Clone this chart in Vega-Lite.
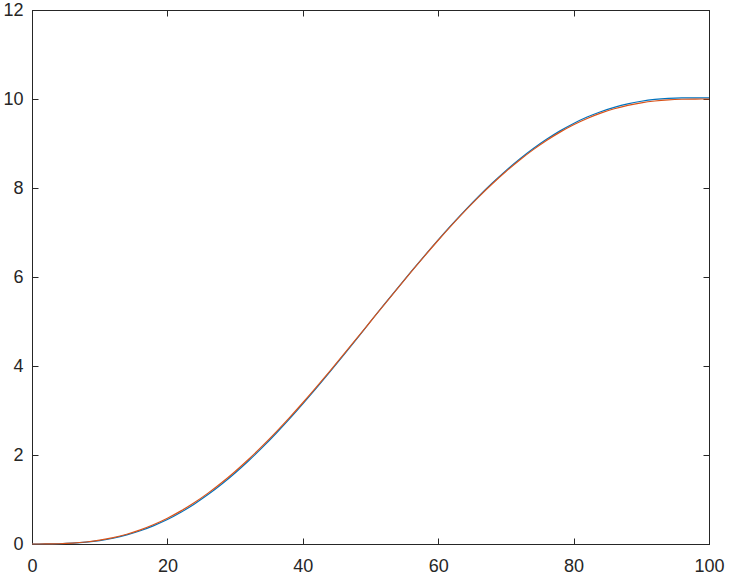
{
  "$schema": "https://vega.github.io/schema/vega-lite/v6.json",
  "width": 677,
  "height": 534,
  "autosize": "none",
  "padding": {"left": 32, "top": 10, "right": 20, "bottom": 33},
  "background": "white",
  "config": {
    "view": {"stroke": "#262626", "strokeWidth": 1},
    "axis": {
      "grid": false,
      "domainColor": "#262626",
      "tickColor": "#262626",
      "labelColor": "#262626",
      "labelFont": "Liberation Sans",
      "labelFontSize": 18,
      "labelFlush": false,
      "labelOverlap": false,
      "tickSize": -6,
      "domainWidth": 1,
      "tickWidth": 1
    }
  },
  "data": {"values": [
    {"x":0,"y":0,"s":"1"},{"x":2,"y":0.0008,"s":"1"},{"x":4,"y":0.006,"s":"1"},{"x":6,"y":0.018,"s":"1"},{"x":8,"y":0.040,"s":"1"},{"x":10,"y":0.076,"s":"1"},{"x":12,"y":0.130,"s":"1"},{"x":14,"y":0.204,"s":"1"},{"x":16,"y":0.298,"s":"1"},{"x":18,"y":0.414,"s":"1"},{"x":20,"y":0.549,"s":"1"},{"x":22,"y":0.713,"s":"1"},{"x":24,"y":0.900,"s":"1"},{"x":26,"y":1.110,"s":"1"},{"x":28,"y":1.342,"s":"1"},{"x":30,"y":1.596,"s":"1"},{"x":32,"y":1.871,"s":"1"},{"x":34,"y":2.165,"s":"1"},{"x":36,"y":2.477,"s":"1"},{"x":38,"y":2.805,"s":"1"},{"x":40,"y":3.149,"s":"1"},{"x":42,"y":3.503,"s":"1"},{"x":44,"y":3.867,"s":"1"},{"x":46,"y":4.239,"s":"1"},{"x":48,"y":4.617,"s":"1"},{"x":50,"y":5.0,"s":"1"},{"x":52,"y":5.377,"s":"1"},{"x":54,"y":5.751,"s":"1"},{"x":56,"y":6.120,"s":"1"},{"x":58,"y":6.482,"s":"1"},{"x":60,"y":6.836,"s":"1"},{"x":62,"y":7.177,"s":"1"},{"x":64,"y":7.504,"s":"1"},{"x":66,"y":7.816,"s":"1"},{"x":68,"y":8.111,"s":"1"},{"x":70,"y":8.389,"s":"1"},{"x":72,"y":8.645,"s":"1"},{"x":74,"y":8.880,"s":"1"},{"x":76,"y":9.093,"s":"1"},{"x":78,"y":9.284,"s":"1"},{"x":80,"y":9.451,"s":"1"},{"x":82,"y":9.594,"s":"1"},{"x":84,"y":9.714,"s":"1"},{"x":86,"y":9.812,"s":"1"},{"x":88,"y":9.891,"s":"1"},{"x":90,"y":9.949,"s":"1"},{"x":92,"y":9.990,"s":"1"},{"x":94,"y":10.014,"s":"1"},{"x":96,"y":10.025,"s":"1"},{"x":98,"y":10.027,"s":"1"},{"x":100,"y":10.025,"s":"1"},
    {"x":0,"y":0,"s":"2"},{"x":2,"y":0.0008,"s":"2"},{"x":4,"y":0.006,"s":"2"},{"x":6,"y":0.0197,"s":"2"},{"x":8,"y":0.0453,"s":"2"},{"x":10,"y":0.0856,"s":"2"},{"x":12,"y":0.1432,"s":"2"},{"x":14,"y":0.2200,"s":"2"},{"x":16,"y":0.3176,"s":"2"},{"x":18,"y":0.4371,"s":"2"},{"x":20,"y":0.5792,"s":"2"},{"x":22,"y":0.7443,"s":"2"},{"x":24,"y":0.9325,"s":"2"},{"x":26,"y":1.1434,"s":"2"},{"x":28,"y":1.3765,"s":"2"},{"x":30,"y":1.6308,"s":"2"},{"x":32,"y":1.9053,"s":"2"},{"x":34,"y":2.1985,"s":"2"},{"x":36,"y":2.5090,"s":"2"},{"x":38,"y":2.8349,"s":"2"},{"x":40,"y":3.1744,"s":"2"},{"x":42,"y":3.5254,"s":"2"},{"x":44,"y":3.8858,"s":"2"},{"x":46,"y":4.2532,"s":"2"},{"x":48,"y":4.6254,"s":"2"},{"x":50,"y":5.0,"s":"2"},{"x":52,"y":5.3746,"s":"2"},{"x":54,"y":5.7468,"s":"2"},{"x":56,"y":6.1142,"s":"2"},{"x":58,"y":6.4746,"s":"2"},{"x":60,"y":6.8256,"s":"2"},{"x":62,"y":7.1651,"s":"2"},{"x":64,"y":7.4910,"s":"2"},{"x":66,"y":7.8015,"s":"2"},{"x":68,"y":8.0947,"s":"2"},{"x":70,"y":8.3692,"s":"2"},{"x":72,"y":8.6235,"s":"2"},{"x":74,"y":8.8566,"s":"2"},{"x":76,"y":9.0675,"s":"2"},{"x":78,"y":9.2557,"s":"2"},{"x":80,"y":9.4208,"s":"2"},{"x":82,"y":9.5629,"s":"2"},{"x":84,"y":9.6824,"s":"2"},{"x":86,"y":9.7800,"s":"2"},{"x":88,"y":9.8568,"s":"2"},{"x":90,"y":9.9144,"s":"2"},{"x":92,"y":9.9547,"s":"2"},{"x":94,"y":9.9803,"s":"2"},{"x":96,"y":9.9940,"s":"2"},{"x":98,"y":9.9994,"s":"2"},{"x":100,"y":10.0,"s":"2"}
  ]},
  "layer": [
    {
      "mark": {"type": "line", "strokeWidth": 1.2, "interpolate": "monotone"},
      "encoding": {
        "x": {"field": "x", "type": "quantitative", "scale": {"domain": [0, 100], "nice": false, "zero": false},
              "axis": {"orient": "bottom", "title": null, "values": [0,20,40,60,80,100], "labelPadding": 19}},
        "y": {"field": "y", "type": "quantitative", "scale": {"domain": [0, 12], "nice": false, "zero": false},
              "axis": {"orient": "left", "title": null, "values": [0,2,4,6,8,10,12], "labelPadding": 15}},
        "color": {"field": "s", "type": "nominal", "scale": {"domain": ["1","2"], "range": ["#0072BD", "#D95319"]}, "legend": null}
      }
    },
    {
      "mark": {"type": "line", "opacity": 0},
      "encoding": {
        "x": {"field": "x", "type": "quantitative",
              "axis": {"orient": "top", "title": null, "values": [0,20,40,60,80,100], "labels": false}},
        "y": {"field": "y", "type": "quantitative",
              "axis": {"orient": "right", "title": null, "values": [0,2,4,6,8,10,12], "labels": false}},
        "detail": {"field": "s"}
      }
    }
  ],
  "resolve": {"axis": {"x": "independent", "y": "independent"}}
}
